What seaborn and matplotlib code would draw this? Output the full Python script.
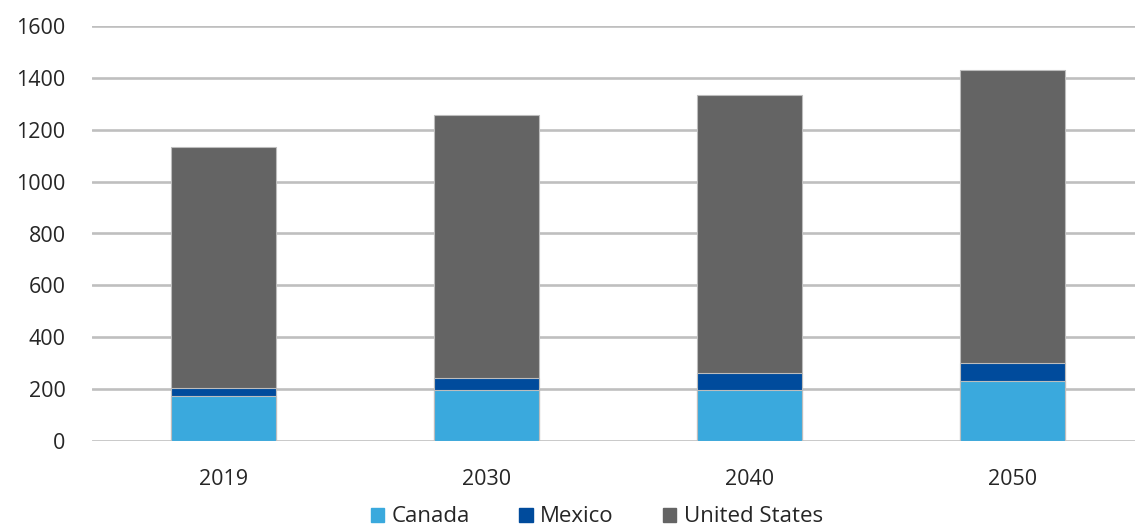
import matplotlib
matplotlib.use("Agg")
import matplotlib.pyplot as plt
import matplotlib.patches as mpatches
import seaborn as sns
import pandas as pd
import numpy as np

years = ["2019", "2030", "2040", "2050"]
canada = [175, 197, 195, 231]
mexico = [28, 45, 66, 69]
united_states = [932, 1015, 1073, 1130]
series_names = ["Canada", "Mexico", "United States"]
colors = {"Canada": "#3AA9DD", "Mexico": "#004B9C", "United States": "#646464"}

sns.set_theme(style="white")
plt.rcParams['font.family'] = ['Open Sans', 'DejaVu Sans']

c = np.array(canada)
m = c + np.array(mexico)
u = m + np.array(united_states)
df = pd.DataFrame({"year": years, "Canada": c, "Mexico": m, "United States": u})

fig = plt.figure(figsize=(11.35, 5.29), dpi=100)
ax = fig.add_axes([92/1135, 88/529, 1052/1135, 415/529])

for name in ["United States", "Mexico", "Canada"]:
    sns.barplot(data=df, x="year", y=name, color=colors[name], width=0.4,
                ax=ax, edgecolor="#BDBDBD", linewidth=0.8, saturation=1, zorder=3)

ax.set_ylim(0, 1600)
ax.set_yticks(range(0, 1601, 200))
ax.yaxis.grid(True, color="#BFBFBF", linewidth=1.9, zorder=0)
ax.set_axisbelow(True)
for s in ax.spines.values():
    s.set_visible(False)
ax.set_xlabel("")
ax.set_ylabel("")
ax.tick_params(axis="y", length=0, pad=19, labelsize=15.5, labelcolor="#262626")
ax.tick_params(axis="x", length=0, pad=20, labelsize=15.5, labelcolor="#262626")

handles = [mpatches.Patch(color=colors[n], label=n) for n in series_names]
fig.legend(handles=handles, loc="center", bbox_to_anchor=(597/1135, 1 - 517/529),
           ncol=3, frameon=False, fontsize=16, handlelength=0.6, handleheight=0.6,
           handletextpad=0.35, columnspacing=2.2, labelcolor="#262626")

fig.savefig("out.png", dpi=100)
